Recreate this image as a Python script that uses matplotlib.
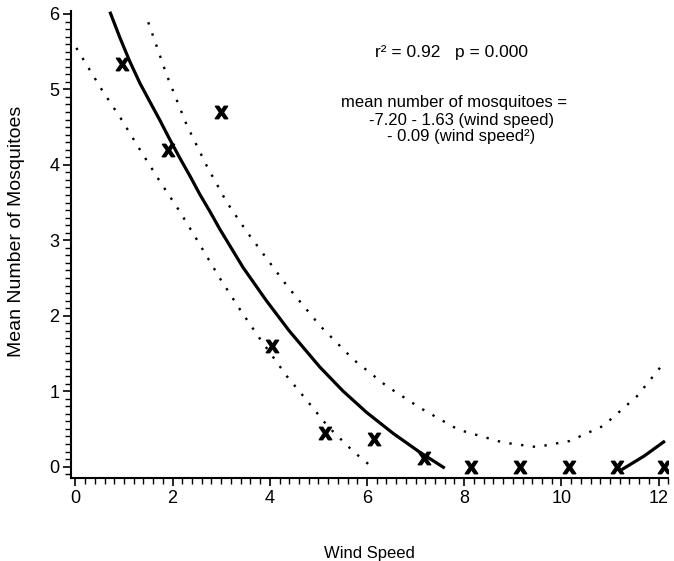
"""Mean number of mosquitoes vs wind speed, quadratic fit with confidence band."""

import matplotlib
matplotlib.use("Agg")
import matplotlib.pyplot as plt
from matplotlib.ticker import MultipleLocator

plt.rcParams["font.family"] = ["Liberation Sans", "DejaVu Sans"]

wind_speed = [0.95, 1.9, 3.0, 4.05, 5.14, 6.14, 7.18, 8.15, 9.15, 10.15, 11.15, 12.12]
mosquitoes = [5.34, 4.2, 4.70, 1.6, 0.44, 0.37, 0.11, 0.0, 0.0, 0.0, 0.0, 0.0]

# fitted curve, drawn in two pieces (it dips below zero in between)
fit_x_left = [0.71, 0.92, 1.12, 1.33, 1.53, 1.74, 1.94, 2.15, 2.36, 2.56, 2.77, 2.97,
              3.45, 3.93, 4.40, 5.03, 5.51, 5.99, 6.54, 7.09, 7.60]
fit_y_left = [6.03, 5.68, 5.37, 5.08, 4.84, 4.59, 4.34, 4.09, 3.85, 3.61, 3.38, 3.15,
              2.64, 2.20, 1.80, 1.32, 1.00, 0.72, 0.44, 0.19, -0.02]
fit_x_right = [11.24, 11.7, 12.13]
fit_y_right = [-0.04, 0.14, 0.34]

# confidence limits
upper_x = [1.50, 1.88, 2.29, 2.70, 3.11, 3.52, 4.35, 5.03, 5.72, 6.40, 7.09, 7.88,
           8.80, 9.49, 10.17, 10.86, 11.55, 12.09]
upper_y = [5.89, 5.19, 4.53, 3.99, 3.51, 3.12, 2.40, 1.87, 1.42, 1.07, 0.78, 0.49,
           0.32, 0.26, 0.34, 0.54, 0.93, 1.36]
lower_x = [0.02, 0.54, 0.95, 1.33, 1.74, 2.15, 2.48, 2.97, 3.38, 3.77, 4.35, 4.76,
           5.20, 5.72, 6.13]
lower_y = [5.55, 5.00, 4.60, 4.20, 3.78, 3.38, 3.03, 2.50, 2.09, 1.72, 1.20, 0.88,
           0.53, 0.20, -0.02]

stats_text = "r² = 0.92   p = 0.000"
eq_lines = ["mean number of mosquitoes =",
            "-7.20 - 1.63 (wind speed)",
            "- 0.09 (wind speed²)"]
eq_x = [7.79, 7.95, 7.93]
eq_y = [4.83, 4.59, 4.37]

fig = plt.figure(figsize=(6.74, 5.61), dpi=100)
ax = fig.add_axes([0.1046, 0.148, 0.887, 0.8325])

ax.plot(fit_x_left, fit_y_left, color="black", lw=2.3, solid_capstyle="butt")
ax.plot(fit_x_right, fit_y_right, color="black", lw=2.3, solid_capstyle="butt")
for xs, ys in [(upper_x, upper_y), (lower_x, lower_y)]:
    ax.plot(xs, ys, color="black", lw=1.7, linestyle=(0, (1, 4)), dash_capstyle="butt")

ax.plot(wind_speed, mosquitoes, linestyle="none", marker=r"$\mathbf{X}$",
        markersize=9, color="black")

ax.text(7.73, 5.49, stats_text, ha="center", va="center", fontsize=12.5)
for x, y, line in zip(eq_x, eq_y, eq_lines):
    ax.text(x, y, line, ha="center", va="center", fontsize=12)

ax.set_xlim(-0.1, 12.2)
ax.set_ylim(-0.15, 6.04)
ax.xaxis.set_major_locator(MultipleLocator(2))
ax.xaxis.set_minor_locator(MultipleLocator(0.2))
ax.yaxis.set_major_locator(MultipleLocator(1))
ax.yaxis.set_minor_locator(MultipleLocator(0.1))
ax.tick_params(which="major", direction="out", length=6, width=1.2, labelsize=13)
ax.tick_params(which="minor", direction="out", length=4, width=1)
ax.tick_params(axis="x", pad=3)
ax.tick_params(axis="y", pad=2)

for side in ["top", "right"]:
    ax.spines[side].set_visible(False)
for side in ["left", "bottom"]:
    ax.spines[side].set_linewidth(1.5)

ax.set_xlabel("Wind Speed", fontsize=12)
ax.set_ylabel("Mean Number of Mosquitoes", fontsize=14)
ax.xaxis.set_label_coords(0.4993, -0.1456)
ax.yaxis.set_label_coords(-0.0761, 0.527)

fig.savefig("out.png", dpi=100)
